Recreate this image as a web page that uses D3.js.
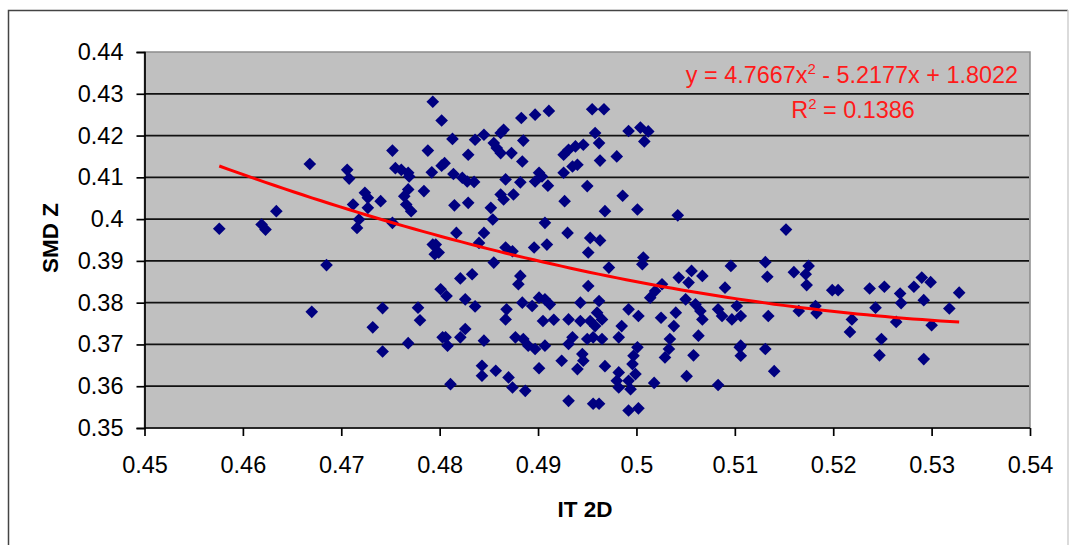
<!DOCTYPE html>
<html>
<head>
<meta charset="utf-8">
<script src="https://cdn.jsdelivr.net/npm/d3@7"></script>
<style>
  body { margin: 0; background: #fff; }
  svg { display: block; font-family: "Liberation Sans", Arial, sans-serif; }
</style>
</head>
<body>
<div id="chart"></div>
<script>
// IT 2D (x) values, one per point
const itValues = [
  0.4576,0.4619,0.4623,0.4634,0.4668,0.4706,0.4708,0.4752,0.4788,0.4755,
  0.4761,0.4768,0.4769,0.4802,0.4792,0.4784,0.4768,0.4764,0.4766,0.4771,
  0.4724,0.4727,0.4727,0.4712,0.4740,0.4718,0.4716,0.4752,0.4793,0.4795,
  0.4685,0.4801,0.4670,0.4742,0.4732,0.4778,0.4780,0.4768,0.4742,0.4803,
  0.4793,0.4802,0.4813,0.4829,0.4805,0.4814,0.4823,0.4828,0.4835,0.4815,
  0.4829,0.4817,0.4845,0.4836,0.4845,0.4855,0.4858,0.4862,0.4865,0.4862,
  0.4873,0.4884,0.4885,0.4883,0.4897,0.4911,0.4867,0.4882,0.4862,0.4865,
  0.4875,0.4852,0.4854,0.4901,0.4897,0.4904,0.4910,0.4907,0.4926,0.4931,
  0.4938,0.4946,0.4935,0.4926,0.4940,0.4955,0.4950,0.4927,0.4930,0.4953,
  0.4909,0.4896,0.4840,0.4867,0.4874,0.4796,0.4799,0.4967,0.4958,0.4962,
  0.4963,0.4980,0.4992,0.5004,0.5012,0.5008,0.4986,0.4968,0.5001,0.5042,
  0.4963,0.4951,0.5007,0.4855,0.4821,0.4833,0.4882,0.4880,
  0.4807,0.4826,0.4836,0.4884,0.4894,0.4901,0.4907,0.4912,0.4868,0.4867,
  0.4905,0.4916,0.4931,0.4943,0.4951,0.4943,0.4953,0.4826,0.4821,0.4806,
  0.4808,0.4845,0.4877,0.4885,0.4890,0.4897,0.4907,0.4935,0.4931,0.4950,
  0.4924,0.4945,0.4946,0.4940,0.4843,0.4843,0.4857,0.4870,0.4874,0.4887,
  0.4901,0.4811,0.4931,0.4956,0.4972,0.5006,0.5096,0.5043,0.5056,0.5067,
  0.5053,0.5026,0.5019,0.5014,0.5090,0.5050,0.5060,0.5065,0.5067,0.5083,
  0.5087,0.5097,0.5102,0.4962,0.4960,0.4958,0.4965,0.4956,0.4965,0.4992,
  0.5002,0.4985,0.5025,0.5040,0.5038,0.4982,0.5034,0.5033,0.5029,0.5063,
  0.5001,0.4997,0.4996,0.5058,0.4968,0.4982,0.4980,0.4982,0.4992,0.4999,
  0.4994,0.5018,0.5051,0.5083,0.5105,0.5106,0.4962,0.4992,0.5002,0.5152,
  0.5131,0.5133,0.5160,0.5172,0.5175,0.5173,0.5199,0.5205,0.5237,0.5252,
  0.5268,0.5269,0.5282,0.5290,0.5299,0.5292,0.5328,0.5318,0.5243,0.5264,
  0.5300,0.5165,0.5182,0.5183,0.5219,0.5217,0.5134,0.5106,0.5106,0.5131,
  0.5140,0.5249,0.5247,0.5292
];

// SMD Z (y) values, same order
const smdValues = [
  0.3977,0.3987,0.3975,0.4019,0.4132,0.4118,0.4097,0.4164,0.4164,0.4122,
  0.4118,0.4111,0.4102,0.4128,0.4112,0.4067,0.4071,0.4055,0.4035,0.4019,
  0.4063,0.4051,0.4027,0.4035,0.4043,0.3999,0.3979,0.3991,0.3939,0.3916,
  0.3890,0.3832,0.3778,0.3787,0.3741,0.3788,0.3758,0.3703,0.3683,0.3717,
  0.4281,0.4236,0.4192,0.4154,0.4134,0.4108,0.4099,0.4090,0.4089,0.4033,
  0.4039,0.3967,0.3967,0.4190,0.4202,0.4182,0.4170,0.4158,0.4214,0.4206,
  0.4158,0.4138,0.4188,0.4242,0.4250,0.4259,0.4095,0.4088,0.4059,0.4047,
  0.4059,0.4027,0.3999,0.4111,0.4090,0.4102,0.4080,0.3991,0.4154,0.4166,
  0.4174,0.4178,0.4126,0.4111,0.4130,0.4263,0.4079,0.4043,0.3967,0.3955,
  0.3939,0.3932,0.3943,0.3932,0.3923,0.3939,0.3920,0.4263,0.4206,0.4182,
  0.4140,0.4150,0.4211,0.4219,0.4210,0.4186,0.4056,0.4019,0.4023,0.4009,
  0.3949,0.3920,0.3908,0.3896,0.3858,0.3868,0.3864,0.3844,
  0.3816,0.3808,0.3791,0.3800,0.3792,0.3812,0.3808,0.3796,0.3784,0.3760,
  0.3756,0.3759,0.3760,0.3756,0.3840,0.3800,0.3756,0.3737,0.3717,0.3717,
  0.3697,0.3709,0.3717,0.3713,0.3697,0.3689,0.3697,0.3717,0.3701,0.3713,
  0.3661,0.3677,0.3661,0.3641,0.3649,0.3625,0.3637,0.3621,0.3597,0.3589,
  0.3643,0.3605,0.3565,0.3558,0.3884,0.3892,0.3888,0.3860,0.3876,0.3864,
  0.3848,0.3844,0.3828,0.3812,0.3836,0.3808,0.3796,0.3780,0.3760,0.3784,
  0.3768,0.3760,0.3792,0.3804,0.3776,0.3744,0.3760,0.3717,0.3713,0.3784,
  0.3768,0.3744,0.3764,0.3776,0.3744,0.3717,0.3713,0.3689,0.3669,0.3721,
  0.3693,0.3673,0.3653,0.3674,0.3648,0.3633,0.3613,0.3597,0.3613,0.3629,
  0.3593,0.3608,0.3624,0.3603,0.3693,0.3673,0.3558,0.3542,0.3547,0.3975,
  0.3897,0.3862,0.3873,0.3868,0.3888,0.3842,0.3830,0.3830,0.3834,0.3838,
  0.3822,0.3799,0.3838,0.3860,0.3849,0.3806,0.3824,0.3786,0.3788,0.3754,
  0.3746,0.3780,0.3792,0.3775,0.3760,0.3730,0.3768,0.3768,0.3697,0.3689,
  0.3636,0.3713,0.3674,0.3665
];

const xTicks = [0.45, 0.46, 0.47, 0.48, 0.49, 0.5, 0.51, 0.52, 0.53, 0.54];
const yTicks = [0.35, 0.36, 0.37, 0.38, 0.39, 0.4, 0.41, 0.42, 0.43, 0.44];

// polynomial trendline (order 2) as printed on the chart
const trendCoef = [4.7667, -5.2177, 1.8022];
const trendR2 = "0.1386";

const width = 1073;
const height = 545;

const svg = d3.select("#chart").append("svg")
    .attr("width", width)
    .attr("height", height);

svg.append("rect")
    .attr("width", width)
    .attr("height", height)
    .attr("fill", "#fff");

// chart frame
svg.append("path")
    .attr("d", "M8.5,545 V10.5 H1068")
    .attr("fill", "none")
    .attr("stroke", "#444")
    .attr("stroke-width", 1.5);
svg.append("line")
    .attr("x1", 1068).attr("x2", 1068)
    .attr("y1", 10).attr("y2", 545)
    .attr("stroke", "#cfcfcf")
    .attr("stroke-width", 1.5);

const x = d3.scaleLinear().domain([0.45, 0.54]).range([144.5, 1030]);
const y = d3.scaleLinear().domain([0.35, 0.44]).range([428, 52]);

// plot area
svg.append("rect")
    .attr("x", x(0.45))
    .attr("y", y(0.44))
    .attr("width", x(0.54) - x(0.45))
    .attr("height", y(0.35) - y(0.44))
    .attr("fill", "#c0c0c0")
    .attr("stroke", "#8c8c8c")
    .attr("stroke-width", 1.5);

// gridlines
svg.append("g")
    .selectAll("line")
    .data(yTicks.filter(d => d > 0.35 && d < 0.44))
    .join("line")
    .attr("x1", x(0.45))
    .attr("x2", x(0.54) - 1)
    .attr("y1", d => y(d))
    .attr("y2", d => y(d))
    .attr("stroke", "#111")
    .attr("stroke-width", 1.7);

const tickFmt = d => String(+d.toFixed(2));

const yAxis = svg.append("g")
    .attr("transform", `translate(${x(0.45)},0)`)
    .call(d3.axisLeft(y).tickValues(yTicks).tickFormat(tickFmt).tickSize(8).tickPadding(13));

const xAxis = svg.append("g")
    .attr("transform", `translate(0,${y(0.35)})`)
    .call(d3.axisBottom(x).tickValues(xTicks).tickFormat(tickFmt).tickSize(8).tickPadding(20));

[xAxis, yAxis].forEach(g => {
    g.select(".domain").attr("stroke", "#000").attr("stroke-width", 1.7);
    g.selectAll(".tick line").attr("stroke", "#000").attr("stroke-width", 1.7);
    g.selectAll(".tick text")
        .attr("font-size", 23.5)
        .attr("font-family", "Liberation Sans, Arial, sans-serif")
        .attr("fill", "#000");
});
xAxis.select(".domain").attr("d", `M${x(0.45)},0H${x(0.54)}`);

// points
const points = itValues.map((v, i) => ({ x: v, y: smdValues[i] }));
const diamond = d3.symbol().type(d3.symbolSquare).size(80);

svg.append("g")
    .selectAll("path")
    .data(points)
    .join("path")
    .attr("d", diamond)
    .attr("transform", d => `translate(${x(d.x)},${y(d.y)}) rotate(45)`)
    .attr("fill", "#000080");

// trendline
const xMin = d3.min(itValues);
const xMax = d3.max(itValues);
const trend = d3.range(0, 81).map(i => {
    const t = xMin + (xMax - xMin) * i / 80;
    return [t, trendCoef[0] * t * t + trendCoef[1] * t + trendCoef[2]];
});

svg.append("path")
    .datum(trend)
    .attr("d", d3.line().x(d => x(d[0])).y(d => y(d[1])))
    .attr("fill", "none")
    .attr("stroke", "#ff0000")
    .attr("stroke-width", 3);

// equation labels
const fmtC = v => Math.abs(v).toFixed(4);
const eq = svg.append("text")
    .attr("x", 1018)
    .attr("y", 83)
    .attr("text-anchor", "end")
    .attr("font-size", 23.4)
    .attr("fill", "#ff1a1a");
eq.append("tspan").text(`y = ${fmtC(trendCoef[0])}x`);
eq.append("tspan").attr("font-size", 15).attr("dy", -9).text("2");
eq.append("tspan").attr("dy", 9)
    .text(` ${trendCoef[1] < 0 ? "-" : "+"} ${fmtC(trendCoef[1])}x ${trendCoef[2] < 0 ? "-" : "+"} ${fmtC(trendCoef[2])}`);

const r2 = svg.append("text")
    .attr("x", 853)
    .attr("y", 118)
    .attr("text-anchor", "middle")
    .attr("font-size", 23.4)
    .attr("fill", "#ff1a1a");
r2.append("tspan").text("R");
r2.append("tspan").attr("font-size", 15).attr("dy", -9).text("2");
r2.append("tspan").attr("dy", 9).text(` = ${trendR2}`);

// axis titles
svg.append("text")
    .attr("x", 585)
    .attr("y", 517)
    .attr("text-anchor", "middle")
    .attr("font-size", 22.5)
    .attr("font-weight", "bold")
    .text("IT 2D");

svg.append("text")
    .attr("transform", "translate(58,238) rotate(-90)")
    .attr("text-anchor", "middle")
    .attr("font-size", 22.5)
    .attr("font-weight", "bold")
    .text("SMD Z");
</script>
</body>
</html>
